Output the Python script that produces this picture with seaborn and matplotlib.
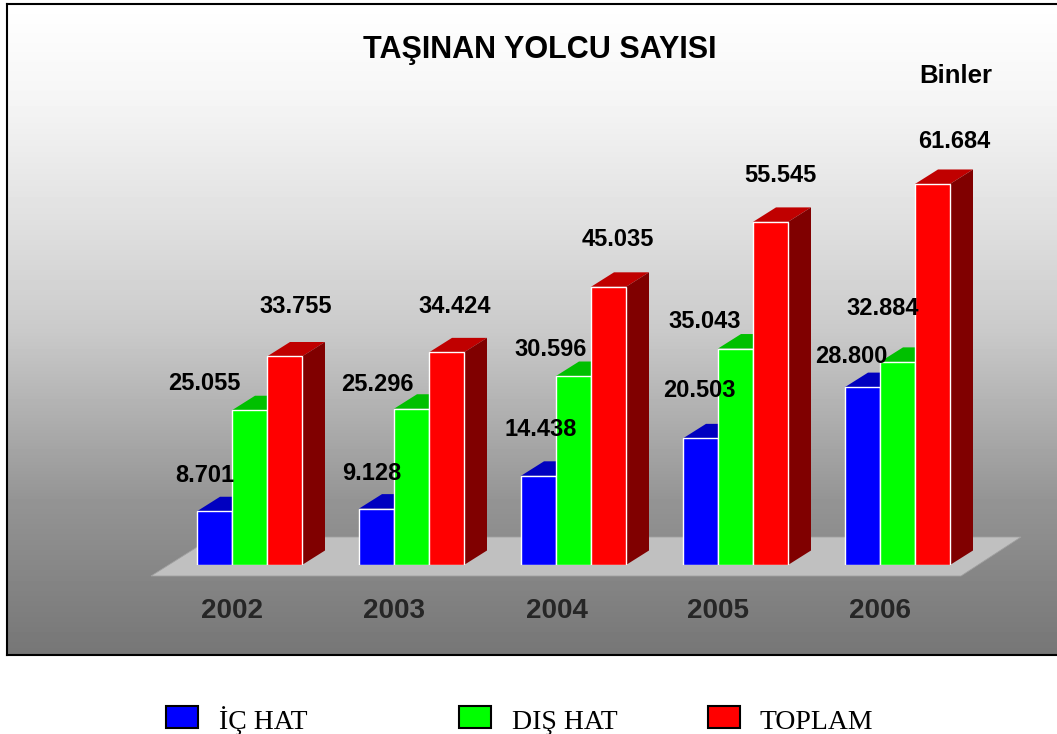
import numpy as np
import pandas as pd
import matplotlib
matplotlib.use('Agg')
import matplotlib.pyplot as plt
from matplotlib.patches import Polygon, Rectangle
import seaborn as sns

# Values (thousands of passengers)
years = ['2002', '2003', '2004', '2005', '2006']
ic_hat = [8701, 9128, 14438, 20503, 28800]
dis_hat = [25055, 25296, 30596, 35043, 32884]
toplam = [33755, 34424, 45035, 55545, 61684]
series_names = ['İÇ HAT', 'DIŞ HAT', 'TOPLAM']

# Bar colours: front, top, side
front_colors = ['#0000ff', '#00ff00', '#ff0000']
top_colors = ['#0000c0', '#00c000', '#c00000']
side_colors = ['#000080', '#008000', '#800000']

# Label offsets from the top centre of each bar, in pixels
label_dx = [[-10, -45, 11], [-5, -34, 8], [2, -23, 9], [-1, -31, 10], [-11, -15, 22]]
label_dy = [[36, 27, 50], [35, 24, 46], [46, 27, 47], [48, 27, 46], [31, 53, 42]]

W, H = 1057, 734
BASE_Y = 565
PX_PER_UNIT = 0.006177
GROUP_STEP = 162
FIRST_CENTER = 249.5
DEPTH_X, DEPTH_Y = 23, 14.5

sns.set_style('white')
plt.rcParams['font.family'] = ['Liberation Sans', 'DejaVu Sans']

df = pd.DataFrame({
    'year': years * 3,
    'series': np.repeat(series_names, 5),
    'value': ic_hat + dis_hat + toplam,
})

fig = plt.figure(figsize=(W / 100, H / 100), dpi=100, facecolor='white')

# Panel with the vertical grey gradient
bg = fig.add_axes([7 / W, (H - 655) / H, (W - 7) / W, 651 / H], zorder=0)
rows = np.arange(4, 655)
shade = np.interp(rows, [4, 100, 220, 330, 500, 655], [255, 245, 224, 202, 148, 118])
bg.imshow(shade[:, None], cmap='gray', vmin=0, vmax=255, aspect='auto')
bg.set_xticks([])
bg.set_yticks([])
for name, spine in bg.spines.items():
    spine.set_color('black')
    spine.set_linewidth(1.5)
bg.spines['right'].set_visible(False)

# Data axes: bottom edge on the bar baseline
ax = fig.add_axes([0, (H - BASE_Y) / H, 1, BASE_Y / H], zorder=1)
ax.patch.set_alpha(0)
sns.barplot(data=df, x='year', y='value', hue='series', hue_order=series_names,
            palette=front_colors, saturation=1, width=105 / GROUP_STEP, gap=0,
            legend=False, ax=ax)
ax.set_xlim(-FIRST_CENTER / GROUP_STEP, (W - FIRST_CENTER) / GROUP_STEP)
ax.set_ylim(0, BASE_Y / PX_PER_UNIT)
ax.set_xlabel('')
ax.set_ylabel('')
ax.set_yticks([])
ax.set_xticks(np.arange(5) - 17 / GROUP_STEP)
ax.set_xticklabels(years, fontsize=20, fontweight='bold')
ax.tick_params(axis='x', length=0, pad=24)
sns.despine(ax=ax, left=True, bottom=True, top=True, right=True)

dx = DEPTH_X / GROUP_STEP
dy = DEPTH_Y / PX_PER_UNIT

# Floor plate under the bars
to_x = lambda px: (px - FIRST_CENTER) / GROUP_STEP
to_y = lambda py: (BASE_Y - py) / PX_PER_UNIT
ax.add_patch(Polygon([(to_x(151), to_y(576)), (to_x(961), to_y(576)),
                      (to_x(1021), to_y(537)), (to_x(213), to_y(537))],
                     closed=True, facecolor='#c0c0c0', edgecolor='#a0a0a0',
                     linewidth=0.6, clip_on=False, zorder=1))

# Top and side faces, taken from the seaborn bars
for i, container in enumerate(ax.containers):
    for j, bar in enumerate(container):
        x0 = bar.get_x()
        x1 = x0 + bar.get_width()
        h = bar.get_height()
        bar.set_zorder(3 + i + 0.5)
        ax.add_patch(Polygon([(x0, h), (x1, h), (x1 + dx, h + dy), (x0 + dx, h + dy)],
                             closed=True, facecolor=top_colors[i], edgecolor='none',
                             zorder=3 + i))
        ax.add_patch(Polygon([(x1, 0), (x1 + dx, dy), (x1 + dx, h + dy), (x1, h)],
                             closed=True, facecolor=side_colors[i], edgecolor='none',
                             zorder=3 + i))
        ax.annotate(f'{int(h):,}'.replace(',', '.'), xy=((x0 + x1) / 2, h),
                    xytext=(label_dx[j][i], label_dy[j][i]), textcoords='offset pixels',
                    ha='center', va='center', fontsize=17, fontweight='bold',
                    color='black', zorder=10)

fig.text(540 / W, 1 - 50 / H, 'TAŞINAN YOLCU SAYISI', ha='center', va='center',
         fontsize=22, fontweight='bold', color='black', zorder=5)
fig.text(956 / W, 1 - 76 / H, 'Binler', ha='center', va='center',
         fontsize=18.5, fontweight='bold', color='black', zorder=5)

# Legend below the panel, its entries are unevenly spaced
handle_x = [166, 459, 708]
text_x = [219, 512, 760]
for color, name, hx, tx in zip(front_colors, series_names, handle_x, text_x):
    fig.add_artist(Rectangle((hx / W, 1 - 728 / H), 32 / W, 22 / H, transform=fig.transFigure,
                             facecolor=color, edgecolor='black', linewidth=1.5))
    fig.text(tx / W, 1 - 729 / H, name, ha='left', va='baseline', fontsize=20,
             family=['Liberation Serif', 'DejaVu Serif'], color='black')

fig.savefig('out.png', dpi=100)
